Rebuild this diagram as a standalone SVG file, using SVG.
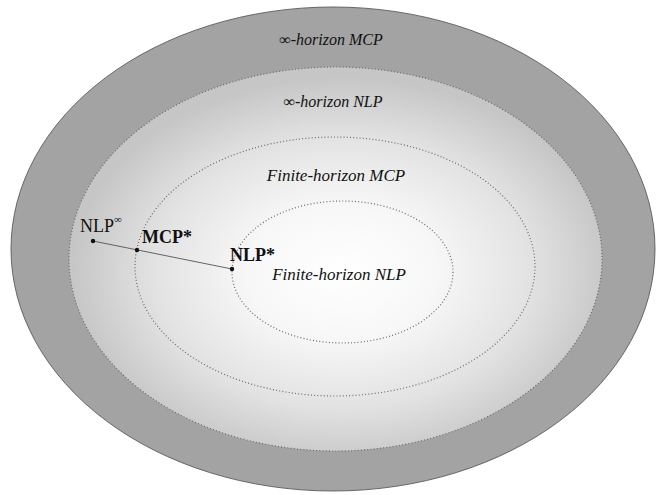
<svg xmlns="http://www.w3.org/2000/svg" width="658" height="495" viewBox="0 0 658 495">
<defs>
<radialGradient id="g" gradientUnits="userSpaceOnUse" cx="342" cy="272" r="270" gradientTransform="translate(342 272) scale(1 0.72) translate(-342 -272)">
<stop offset="0" stop-color="#ffffff"/>
<stop offset="0.35" stop-color="#f7f7f7"/>
<stop offset="0.7" stop-color="#e2e2e2"/>
<stop offset="1" stop-color="#c6c6c6"/>
</radialGradient>
<style>
.reg{fill:none;stroke:#6a6a6a;stroke-width:1.2;stroke-dasharray:1 2.2}
.lbl{font-family:"Liberation Serif","Times New Roman",serif;font-style:italic;font-size:16px;fill:#111;text-anchor:middle}
.fin{font-size:17px}
.pt{font-family:"Liberation Serif","Times New Roman",serif;font-size:18px;fill:#111}
.dot{fill:#111}
</style>
</defs>
<rect width="658" height="495" fill="#ffffff"/>
<g id="inf-mcp">
<ellipse cx="333" cy="249" rx="322" ry="242" fill="#a3a3a3" stroke="#5a5a5a" stroke-width="0.9"/>
<text class="lbl" x="331" y="45">∞-horizon MCP</text>
</g>
<g id="inf-nlp">
<ellipse cx="335.5" cy="259" rx="266.5" ry="192" fill="url(#g)"/>
<ellipse class="reg" cx="335.5" cy="259" rx="266.5" ry="192" stroke="#555"/>
<text class="lbl" x="333" y="107">∞-horizon NLP</text>
</g>
<g id="fin-mcp">
<ellipse class="reg" cx="335" cy="266.5" rx="200" ry="129.5" stroke="#8a8a8a"/>
<text class="lbl fin" x="336" y="181">Finite-horizon MCP</text>
</g>
<g id="fin-nlp">
<ellipse class="reg" cx="342.5" cy="272" rx="110.5" ry="71" stroke="#8a8a8a"/>
<text class="lbl fin" x="339" y="280">Finite-horizon NLP</text>
</g>
<g id="connectors">
<line x1="93" y1="241" x2="232" y2="269" stroke="#555" stroke-width="0.9"/>
</g>
<g id="nlp-inf">
<circle class="dot" cx="93" cy="241" r="2.2"/>
<text class="pt" x="80" y="232">NLP<tspan font-size="11" dy="-9">∞</tspan></text>
</g>
<g id="mcp-star">
<circle class="dot" cx="137" cy="250" r="2.2"/>
<text class="pt" x="142" y="243" font-weight="bold">MCP*</text>
</g>
<g id="nlp-star">
<circle class="dot" cx="232" cy="269" r="2.2"/>
<text class="pt" x="230" y="261" font-weight="bold">NLP*</text>
</g>
</svg>
